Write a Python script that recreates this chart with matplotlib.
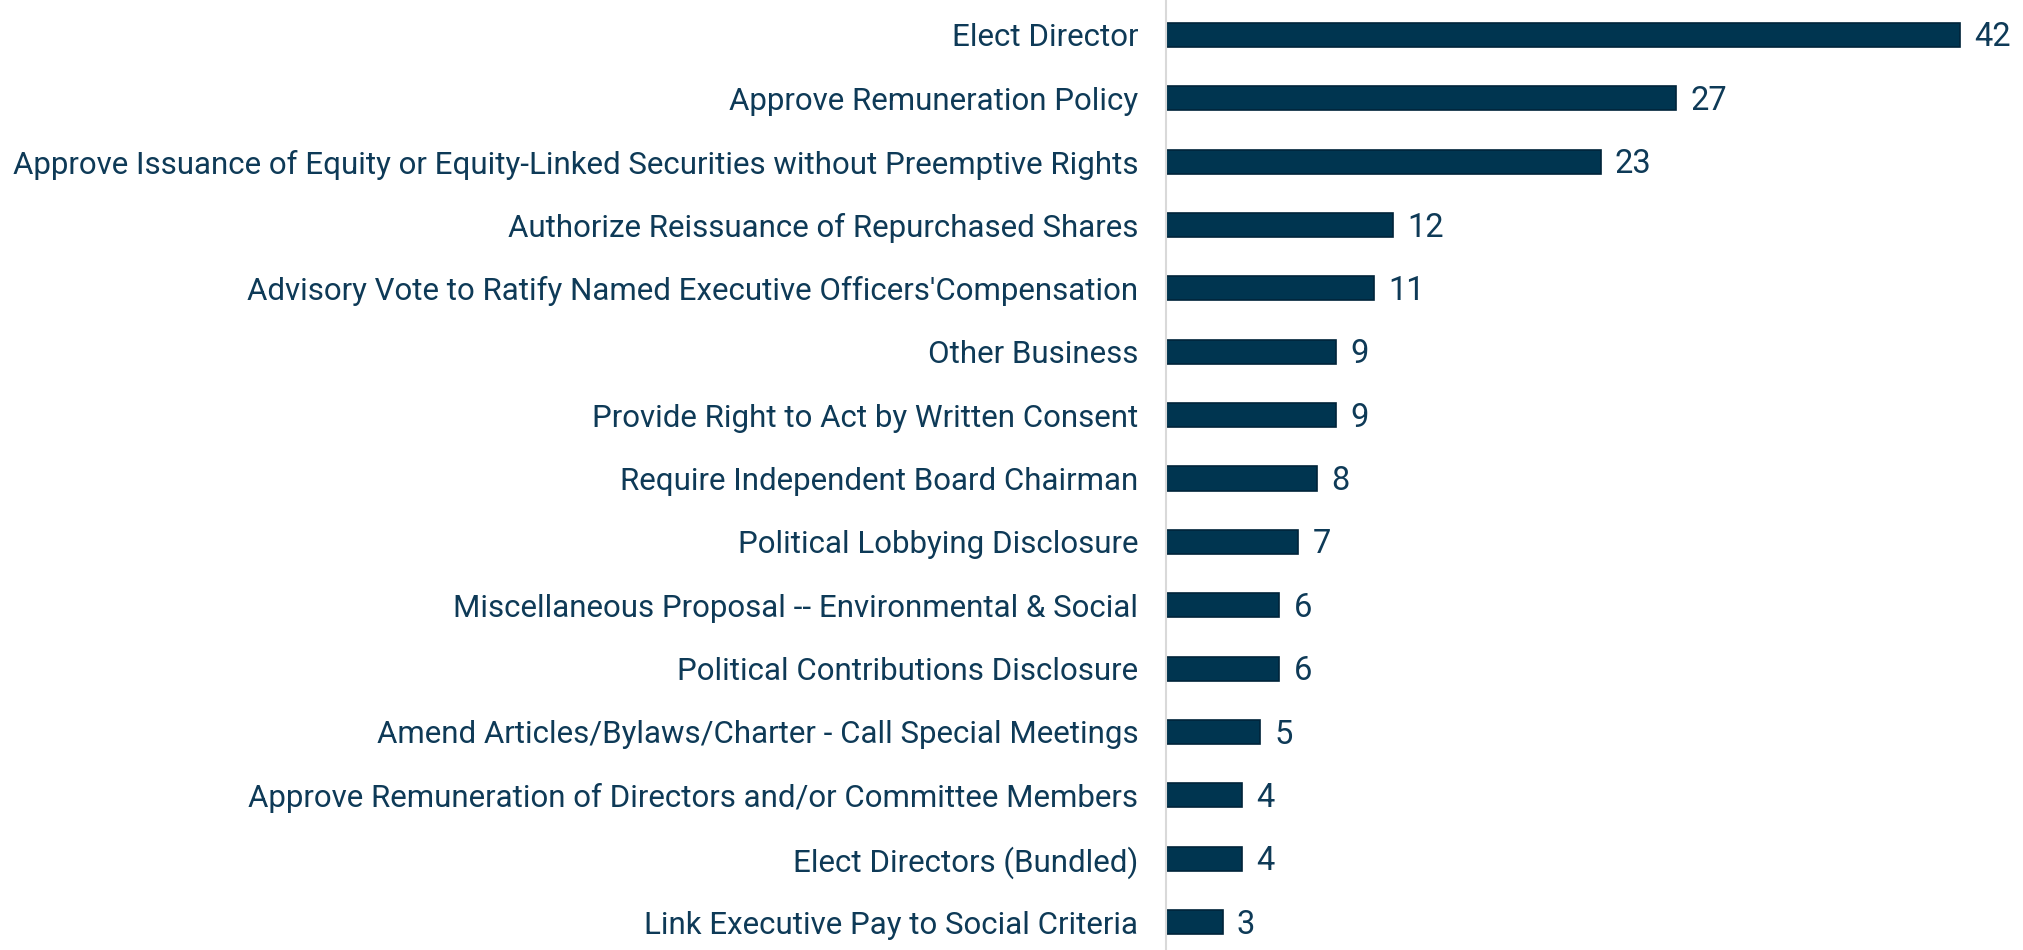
import matplotlib
matplotlib.use("Agg")
import matplotlib.pyplot as plt

categories = [
    "Elect Director",
    "Approve Remuneration Policy",
    "Approve Issuance of Equity or Equity-Linked Securities without Preemptive Rights",
    "Authorize Reissuance of Repurchased Shares",
    "Advisory Vote to Ratify Named Executive Officers'Compensation",
    "Other Business",
    "Provide Right to Act by Written Consent",
    "Require Independent Board Chairman",
    "Political Lobbying Disclosure",
    "Miscellaneous Proposal -- Environmental & Social",
    "Political Contributions Disclosure",
    "Amend Articles/Bylaws/Charter - Call Special Meetings",
    "Approve Remuneration of Directors and/or Committee Members",
    "Elect Directors (Bundled)",
    "Link Executive Pay to Social Criteria",
]
counts = [42, 27, 23, 12, 11, 9, 9, 8, 7, 6, 6, 5, 4, 4, 3]

bar_color = "#003550"
text_color = "#0e3a57"

plt.rcParams["font.family"] = ["Roboto", "DejaVu Sans"]

fig = plt.figure(figsize=(20.24, 9.5), dpi=100)
ax = fig.add_axes([1166 / 2024, 0, 1 - 1166 / 2024, 1])

ypos = list(range(len(categories)))
ax.barh(ypos, counts, height=0.38, color=bar_color, edgecolor="#00243a", linewidth=1.2)

for y, v in zip(ypos, counts):
    ax.text(v + 0.75, y + 0.04, str(v), va="center", ha="left", fontsize=23.5, color=text_color)

ax.set_yticks(ypos)
ax.set_yticklabels(categories, fontsize=22.5, color=text_color)
ax.tick_params(axis="y", length=0, pad=20)
ax.set_xticks([])
ax.set_xlim(0, 45.4)
ax.set_ylim(14.44, -0.55)

for s in ["top", "right", "bottom"]:
    ax.spines[s].set_visible(False)
ax.spines["left"].set_color("#d9d9d9")
ax.spines["left"].set_linewidth(1.5)

fig.savefig("out.png", dpi=100, facecolor="white")
